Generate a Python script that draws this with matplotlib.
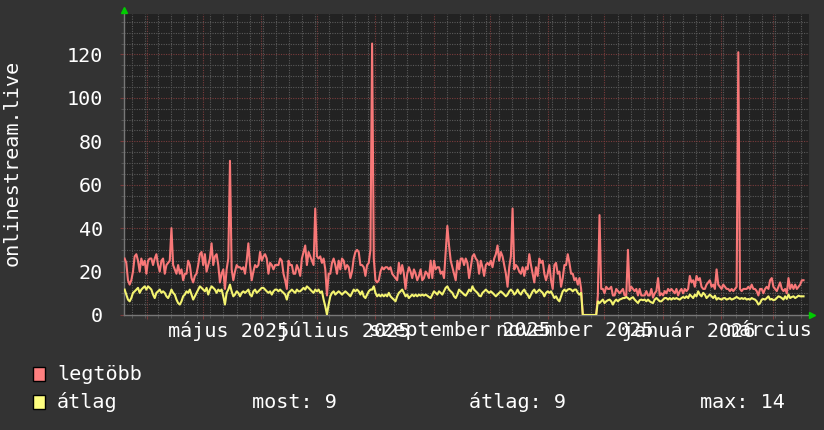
"""
RRDtool-style yearly chart for onlinestream.live (legtöbb / átlag).
"""

import matplotlib
matplotlib.use("Agg")
import matplotlib.dates as mdates
import matplotlib.pyplot as plt
import numpy as np
import pandas as pd
from matplotlib.patches import Rectangle

plt.rcParams["font.family"] = ["DejaVu Sans Mono", "DejaVu Sans"]

# --- data ------------------------------------------------------------------
data_start = "2025-03-20 08:00"
data_end = "2026-03-17 02:00"
view_start = "2025-03-20"
view_end = "2026-03-20"

legtobb = [
    # spring / summer 2025
    26, 24, 16, 14, 16, 20, 27, 28, 25, 20, 26, 23, 25, 19, 25, 26, 26, 23, 26, 28,
    23, 20, 25, 26, 19, 23, 24, 25, 40, 23, 21, 19, 23, 19, 21, 16, 19, 19, 25, 23,
    17, 15, 18, 19, 23, 28, 29, 23, 28, 20, 23, 26, 33, 23, 27, 28, 23, 15, 19, 21,
    12, 21, 26, 71, 21, 16, 20, 23, 22, 22, 21, 22, 19, 25, 33, 23, 16, 20, 23, 22,
    23, 29, 25, 27, 28, 26, 19, 24, 23, 21, 23, 23, 23, 26, 25, 19, 16, 12, 25, 23,
    23, 19, 19, 23, 21, 18, 26, 29, 32, 23, 29, 27, 25, 23, 49, 27, 26, 27, 24, 26,
    21, 9, 19, 19, 24, 26, 23, 19, 25, 21, 26, 25, 21, 23, 22, 17, 20,
    # summer / autumn 2025
    26, 29, 30, 29, 23, 23, 22, 18, 23, 24, 30, 125, 26, 16, 15, 16, 20, 22, 21, 22,
    22, 21, 22, 19, 18, 17, 16, 24, 19, 23, 19, 12, 19, 22, 20, 17, 21, 19, 16, 18,
    21, 16, 17, 20, 19, 17, 25, 17, 25, 21, 22, 22, 19, 20, 17, 29, 41, 32, 25, 22,
    19, 16, 25, 21, 26, 26, 23, 26, 24, 17, 22, 27, 28, 26, 25, 19, 25, 22, 18, 23,
    24, 23, 25, 22, 26, 28, 32, 25, 29, 27, 23, 19, 13, 22, 27, 49, 21, 23, 22, 20,
    19, 22, 18, 22, 21, 28, 23, 19, 15, 22, 18, 26, 24, 25, 19, 16, 19, 23, 16, 12,
    23, 24, 19, 20, 13, 17, 23, 23, 28, 24, 19, 19, 16, 17, 14, 17, 12,
    # outage, then winter 2025/26
    0, 0, 0, 0, 0, 0, 0, 0, 0, 9, 46, 12, 12, 10, 13, 12, 12, 13, 9, 9,
    12, 11, 10, 11, 12, 9, 9, 30, 11, 13, 12, 11, 12, 9, 12, 9, 9, 9, 11, 9,
    9, 12, 8, 10, 11, 17, 9, 10, 9, 11, 10, 12, 11, 12, 11, 10, 12, 9, 11, 12,
    10, 12, 11, 12, 18, 15, 16, 13, 18, 16, 17, 13, 12, 12, 14, 15, 16, 13, 14, 12,
    21, 14, 13, 12, 14, 13, 12, 12, 11, 12, 11, 12, 13, 121, 12, 11, 12, 12, 12, 13,
    12, 14, 12, 12, 11, 9, 12, 12, 10, 12, 13, 12, 16, 17, 13, 12, 11, 13, 15, 12,
    11, 12, 10, 17, 12, 14, 12, 14, 12, 13, 14, 16, 16,
]

atlag = [
    11.7, 9.4, 7.1, 6.3, 7.8, 10.2, 10.9, 11.7, 12.5, 10.2, 11.7, 12.5, 13.2, 11.7,
    13.2, 12.5, 11.7, 9.4, 7.8, 10.2, 10.9, 11.7, 10.2, 10.9, 10.2, 8.6, 7.8, 9.4,
    11.7, 10.2, 9.4, 7.1, 5.5, 4.8, 6.3, 8.6, 9.4, 10.9, 10.2, 11.7, 9.4, 7.1, 8.6,
    10.2, 11.7, 13.2, 12.5, 11.7, 10.9, 12.5, 9.4, 11.7, 13.2, 12.5, 11.7, 10.2, 11.7,
    10.9, 11.7, 8.6, 4.8, 10.2, 11.7, 14.0, 10.9, 8.6, 9.4, 10.9, 10.2, 8.6, 10.2,
    10.9, 10.2, 10.9, 11.7, 9.4, 8.6, 10.9, 11.7, 10.2, 10.9, 11.7, 12.5, 12.5, 11.7,
    10.9, 10.2, 10.9, 9.4, 10.9, 11.7, 11.7, 10.9, 11.7, 10.9, 10.2, 9.4, 7.1, 10.2,
    10.9, 11.7, 10.9, 10.2, 11.7, 10.9, 10.9, 11.7, 12.5, 11.7, 13.2, 12.5, 11.7,
    10.9, 10.2, 11.7, 10.9, 11.7, 10.2, 10.9, 7.1, 4.0, 0.2, 4.8, 8.6, 10.2, 10.9,
    9.4, 10.2, 10.9, 10.2, 9.4, 10.2, 10.9, 10.2, 9.4, 8.6, 10.2,
    11.7, 10.9, 11.7, 10.9, 9.4, 10.9, 8.6, 7.8, 9.4, 10.9, 11.7, 11.7, 13.2, 10.2,
    8.6, 9.4, 8.6, 9.4, 8.6, 9.4, 8.6, 10.2, 8.6, 7.8, 7.1, 6.3, 8.6, 10.2, 10.9,
    11.7, 10.2, 8.6, 9.4, 7.8, 8.6, 9.4, 8.6, 9.4, 8.6, 9.4, 8.9, 9.4, 8.9, 9.4,
    8.9, 8.3, 7.8, 9.4, 10.9, 10.2, 9.4, 10.9, 10.2, 9.4, 10.9, 12.5, 13.2, 11.7,
    10.9, 10.2, 8.6, 7.8, 9.4, 11.7, 10.9, 10.2, 9.4, 8.9, 10.2, 11.7, 10.9, 13.2,
    11.7, 10.9, 10.2, 8.9, 8.6, 10.2, 10.9, 11.7, 10.9, 10.2, 10.9, 10.2, 9.4, 8.6,
    9.4, 10.2, 10.9, 10.2, 9.4, 8.6, 9.4, 10.9, 11.7, 10.9, 9.4, 10.2, 11.7, 10.2,
    9.4, 10.9, 11.7, 10.2, 9.4, 7.8, 9.4, 10.9, 11.7, 10.2, 10.9, 11.7, 10.9, 10.2,
    8.6, 10.2, 10.9, 10.2, 10.9, 9.4, 7.8, 8.6, 7.1, 6.3, 8.6, 10.9, 11.7, 10.9,
    11.7, 12.0, 11.7, 10.9, 11.7, 11.7, 10.2, 9.4, 10.2,
    0, 0, 0, 0, 0, 0, 0, 0, 0, 6.3, 5.5, 6.3, 7.1, 5.5, 6.3, 6.8, 7.1, 6.3, 4.8,
    6.3, 7.1, 6.3, 7.1, 7.4, 7.8, 7.8, 8.3, 7.8, 7.1, 7.8, 8.2, 7.1, 6.3, 5.5, 6.8,
    7.1, 6.8, 7.1, 6.3, 7.1, 6.3, 5.8, 5.5, 7.1, 7.8, 7.1, 6.3, 6.3, 7.1, 7.8, 7.8,
    7.1, 7.8, 7.1, 7.8, 7.4, 7.8, 7.4, 7.1, 7.8, 8.3, 7.8, 8.6, 7.8, 9.4, 8.6, 7.8,
    9.4, 8.6, 10.9, 9.4, 8.6, 10.2, 9.4, 7.8, 8.6, 9.4, 8.6, 7.8, 8.9, 7.1, 7.8,
    7.4, 7.1, 7.7, 7.8, 7.1, 7.4, 7.8, 7.1, 7.4, 7.8, 8.3, 7.8, 7.4, 7.8, 7.4, 7.8,
    7.1, 7.4, 7.1, 7.8, 7.4, 7.1, 6.3, 4.8, 5.5, 7.1, 7.4, 7.1, 7.8, 8.6, 7.1, 7.4,
    6.8, 7.1, 7.8, 8.6, 8.3, 7.8, 7.1, 8.6, 7.4, 9.4, 7.8, 8.3, 8.6, 7.8, 8.3, 8.9,
    8.6, 8.6, 8.6,
]

month_labels = ["május 2025", "július 2025", "szeptember 2025",
                "november 2025", "január 2026", "március 2026"]
month_label_dates = ["2025-05-15", "2025-07-15", "2025-09-15",
                     "2025-11-15", "2026-01-15", "2026-03-15"]

legend_names = ["legtöbb", "átlag"]
stats_text = ["most: 9", "átlag: 9", "max: 14"]

# --- style ------------------------------------------------------------------
BACK = "#333333"
CANVAS = "#222222"
RED_LINE = "#f87878"
YELLOW_LINE = "#f4f470"
RED_SWATCH = "#ff8080"
YELLOW_SWATCH = "#ffff80"
MINOR_GRID = "#5a5a5a"
MAJOR_GRID = "#7a3c3c"
FS = 14.5

W, H = 824, 430
fig = plt.figure(figsize=(W / 100, H / 100), dpi=100, facecolor=BACK)
ax = fig.add_axes([124 / W, 115 / H, 685 / W, 301 / H], facecolor=CANVAS)

x_red = pd.date_range(data_start, data_end, periods=len(legtobb))
x_yel = pd.date_range(data_start, data_end, periods=len(atlag))
ax.plot(x_red, legtobb, color=RED_LINE, lw=1.5, zorder=3)
ax.plot(x_yel, atlag, color=YELLOW_LINE, lw=1.5, zorder=4)

ax.set_xlim(pd.Timestamp(view_start), pd.Timestamp(view_end))
ax.set_ylim(0, 138.6)

# grid: 5-unit minor / 20-unit major, weekly minor / monthly major
ax.set_yticks(np.arange(0, 121, 20))
ax.set_yticks(np.arange(0, 136, 5), minor=True)
ax.xaxis.set_major_locator(mdates.MonthLocator())
ax.xaxis.set_minor_locator(mdates.WeekdayLocator(byweekday=mdates.MO))
ax.xaxis.set_major_formatter(plt.NullFormatter())
ax.grid(which="minor", color=MINOR_GRID, lw=0.8, linestyle=(0, (1, 1.2)))
ax.grid(which="major", color=MAJOR_GRID, lw=0.8, linestyle=(0, (1, 1.2)))
ax.set_axisbelow(True)

ax.tick_params(axis="y", which="major", colors=MAJOR_GRID, length=3,
               labelcolor="white", labelsize=FS, pad=12)
ax.tick_params(axis="y", which="minor", colors=MINOR_GRID, length=2)
ax.tick_params(axis="x", which="major", colors=MAJOR_GRID, length=3)
ax.tick_params(axis="x", which="minor", colors=MINOR_GRID, length=2)

for side in ["top", "right"]:
    ax.spines[side].set_visible(False)
for side in ["left", "bottom"]:
    ax.spines[side].set_color("#777777")
    ax.spines[side].set_linewidth(1)

for lab, d in zip(month_labels, month_label_dates):
    ax.text(pd.Timestamp(d), -0.02, lab, transform=ax.get_xaxis_transform(),
            ha="center", va="top", color="white", fontsize=FS, clip_on=False)

# little green arrows at the axis ends
ax.plot([0], [1.013], marker="^", color="#00cc00", ms=4.5, transform=ax.transAxes,
        clip_on=False, zorder=6)
ax.plot([1.004], [0], marker=">", color="#00cc00", ms=4.5, transform=ax.transAxes,
        clip_on=False, zorder=6)

fig.text(12 / W, 1 - 163 / H, "onlinestream.live", rotation=90, ha="center",
         va="center", color="white", fontsize=FS)

# legend
rows_y = [374, 402]
for name, sw, y in zip(legend_names, [RED_SWATCH, YELLOW_SWATCH], rows_y):
    fig.add_artist(Rectangle((33 / W, 1 - (y + 7) / H), 12 / W, 14 / H,
                             transform=fig.transFigure, facecolor=sw,
                             edgecolor="black", lw=1))
    fig.text(57 / W, 1 - y / H, name, ha="left", va="center",
             color="white", fontsize=FS)
for txt, x in zip(stats_text, [252, 469, 700]):
    fig.text(x / W, 1 - rows_y[1] / H, txt, ha="left", va="center",
             color="white", fontsize=FS)

fig.savefig("out.png", dpi=100, facecolor=BACK)
